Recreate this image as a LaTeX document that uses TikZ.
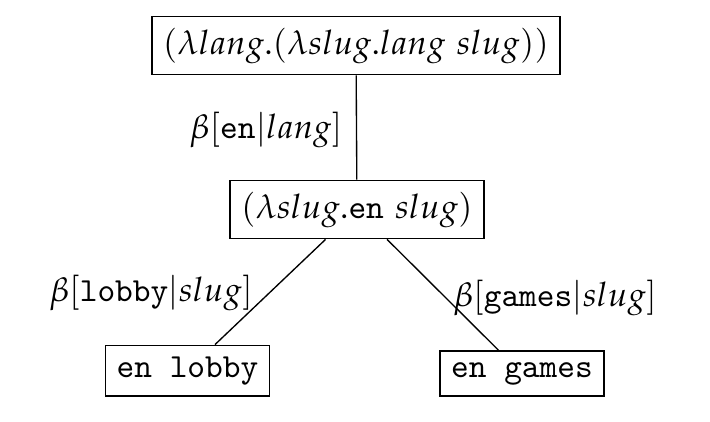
\documentclass[tikz,border=0pt]{standalone}
\usepackage{mathpazo}
\begin{document}
\begin{tikzpicture}[x=0.2967pt,y=-0.2967pt,
  term/.style={draw,line width=0.5pt},
  lab/.style={inner sep=0pt}]
\useasboundingbox (0,0) rectangle (710,422);
\node[term] (top) at (356,45.5) {$(\lambda lang.(\lambda slug.lang\ slug))$};
\node[term] (mid) at (357,209.5) {$(\lambda slug.\texttt{en}\ slug)$};
\node[term,anchor=south] (lb) at (187.5,397) {\texttt{en lobby}};
\node[term,anchor=south] (gm) at (522,397) {\texttt{en games}};
\draw (top) -- (mid);
\draw (mid) -- (lb);
\draw (mid) -- (gm);
\node[lab,anchor=east] (l1) at (343,130) {$\beta[\texttt{en}|lang]$};
\node[lab] (l2) at (151,293) {$\beta[\texttt{lobby}|slug]$};
\node[lab] (l3) at (555,298) {$\beta[\texttt{games}|slug]$};
\end{tikzpicture}
\end{document}
